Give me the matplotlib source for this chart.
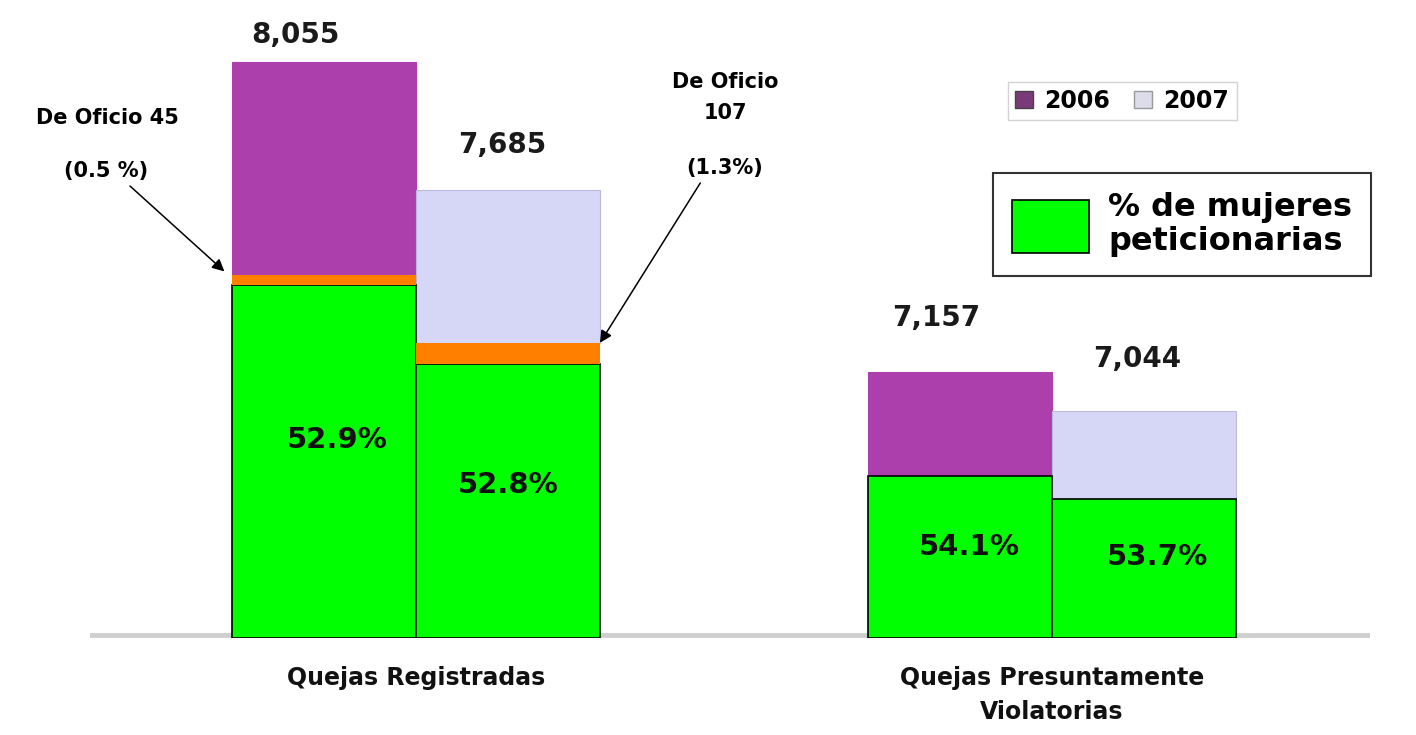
import matplotlib
matplotlib.use("Agg")
import matplotlib.pyplot as plt
from matplotlib.patches import Patch

# ---------------- data ----------------
categories = ["Quejas Registradas", "Quejas Presuntamente\nViolatorias"]
years = ["2006", "2007"]
totals_2006 = [8055, 7157]
totals_2007 = [7685, 7044]
# level (axis units) where the green "% de mujeres" part ends, as drawn
green_level_2006 = [7409, 6856]
green_level_2007 = [7180, 6789]
# thickness (axis units) of the orange "De Oficio" band, as drawn
oficio_band_2006 = [29, 0]
oficio_band_2007 = [61, 0]
pct_mujeres_2006 = ["52.9%", "54.1%"]
pct_mujeres_2007 = ["52.8%", "53.7%"]
oficio_count = ["45", "107"]
oficio_pct = ["(0.5 %)", "(1.3%)"]
axis_floor = 6386

# ---------------- style ----------------
W, H = 1416, 735
C_2006 = "#AC3FAC"
C_2007 = "#D6D6F6"
C_GREEN = "#00FF00"
C_ORANGE = "#FF8000"
FONT = "DejaVu Sans"
plt.rcParams["font.family"] = [FONT]

fig = plt.figure(figsize=(W / 100, H / 100), dpi=100)
fig.patch.set_facecolor("white")
ax = fig.add_axes([90 / W, (H - 638) / H, 1280 / W, (638 - 20) / H])
ax.set_xlim(-0.5126, 1.5)
ax.set_ylim(axis_floor, axis_floor + 618 / 0.3452)
for s in ax.spines.values():
    s.set_visible(False)
ax.set_yticks([])

bw = 0.2893
x = [0, 1]
x06 = [xi - bw / 2 for xi in x]
x07 = [xi + bw / 2 for xi in x]

ax.axhline(axis_floor + 8, color="#cfcfcf", lw=3.5, zorder=0)

def draw(xs, totals, green, band, color, edge):
    g_h = [g - axis_floor for g in green]
    ax.bar(xs, g_h, bw, bottom=axis_floor, color=C_GREEN, edgecolor="black",
           linewidth=1.2, zorder=3)
    ax.bar(xs, band, bw, bottom=green, color=C_ORANGE, linewidth=0, zorder=3)
    tops = [g + b for g, b in zip(green, band)]
    ax.bar(xs, [t - tp for t, tp in zip(totals, tops)], bw, bottom=tops,
           color=color, edgecolor=edge, linewidth=0.8, zorder=2)

draw(x06, totals_2006, green_level_2006, oficio_band_2006, C_2006, C_2006)
draw(x07, totals_2007, green_level_2007, oficio_band_2007, C_2007, "#B9B9DD")

# value labels above bars (offsets in pixels)
val_off = [(-29, 27), (-6, 45), (-24, 54), (-7, 52)]
vals = [(x06[0], totals_2006[0]), (x07[0], totals_2007[0]),
        (x06[1], totals_2006[1]), (x07[1], totals_2007[1])]
for (xv, v), off in zip(vals, val_off):
    ax.annotate(f"{v:,}", xy=(xv, v), xytext=off, textcoords="offset pixels",
                ha="center", va="center", fontsize=20, fontweight="bold",
                color="#1a1a1a")

# percentage labels in the green parts
pct_off = [(13, 21), (0, 16), (9, 10), (13, 11)]
pcts = [(x06[0], green_level_2006[0], pct_mujeres_2006[0]),
        (x07[0], green_level_2007[0], pct_mujeres_2007[0]),
        (x06[1], green_level_2006[1], pct_mujeres_2006[1]),
        (x07[1], green_level_2007[1], pct_mujeres_2007[1])]
for (xv, g, t), off in zip(pcts, pct_off):
    ax.annotate(t, xy=(xv, (g + axis_floor) / 2), xytext=off,
                textcoords="offset pixels", ha="center", va="center",
                fontsize=21, fontweight="bold", color="#111111")

# De Oficio annotations
top1 = green_level_2006[0] + oficio_band_2006[0]
ax.annotate(oficio_pct[0], xy=(x06[0] - bw / 2 - 0.012, top1 + 10),
            xytext=(-118, 100), textcoords="offset pixels",
            ha="center", va="center", fontsize=15, fontweight="bold",
            arrowprops=dict(arrowstyle="-|>", color="black", lw=1.1,
                            mutation_scale=18, relpos=(0.72, 0.0),
                            shrinkA=2, shrinkB=0))
ax.annotate("De Oficio " + oficio_count[0], xy=(x06[0] - bw / 2 - 0.012, top1 + 10),
            xytext=(-117, 153), textcoords="offset pixels",
            ha="center", va="center", fontsize=15, fontweight="bold")

top2 = green_level_2007[0] + oficio_band_2007[0]
ax.annotate(oficio_pct[1], xy=(x07[0] + bw / 2, top2),
            xytext=(125, 175), textcoords="offset pixels",
            ha="center", va="center", fontsize=15, fontweight="bold",
            arrowprops=dict(arrowstyle="-|>", color="black", lw=1.1,
                            mutation_scale=18, relpos=(0.22, 0.0),
                            shrinkA=2, shrinkB=0))
ax.annotate("De Oficio\n" + oficio_count[1], xy=(x07[0] + bw / 2, top2),
            xytext=(125, 245), textcoords="offset pixels",
            ha="center", va="center", fontsize=15, fontweight="bold",
            linespacing=1.7)

# category labels
ax.set_xticks(x)
ax.set_xticklabels(categories, fontsize=17, fontweight="bold", color="#111111",
                   linespacing=1.55)
ax.tick_params(axis="x", length=0, pad=20)
for lbl in ax.get_xticklabels():
    lbl.set_va("top")

# legends
leg1 = fig.legend(handles=[Patch(fc="#7A3A7A", ec="#444444"),
                           Patch(fc="#DCDCEA", ec="#999999")],
                  labels=years, ncol=2, loc="upper left",
                  bbox_to_anchor=(1008 / W, 1 - 82 / H), frameon=True,
                  fancybox=False, edgecolor="#c8c8c8",
                  prop=dict(family=FONT, weight="bold", size=17),
                  handlelength=0.75, handleheight=0.75, handletextpad=0.5,
                  columnspacing=1.0, borderpad=0.3, borderaxespad=0)
leg1.get_frame().set_linewidth(1.0)

leg2 = fig.legend(handles=[Patch(fc=C_GREEN, ec="black", lw=1.2)],
                  labels=["% de mujeres\npeticionarias"], loc="upper left",
                  bbox_to_anchor=(993 / W, 1 - 173 / H), frameon=True,
                  fancybox=False, edgecolor="black",
                  prop=dict(family=FONT, weight="bold", size=23),
                  handlelength=2.4, handleheight=2.2, handletextpad=0.6,
                  borderpad=0.6, borderaxespad=0)
leg2.get_frame().set_linewidth(1.5)
for t in leg2.get_texts():
    t.set_linespacing(1.1)

fig.savefig("out.png", dpi=100, facecolor="white")
